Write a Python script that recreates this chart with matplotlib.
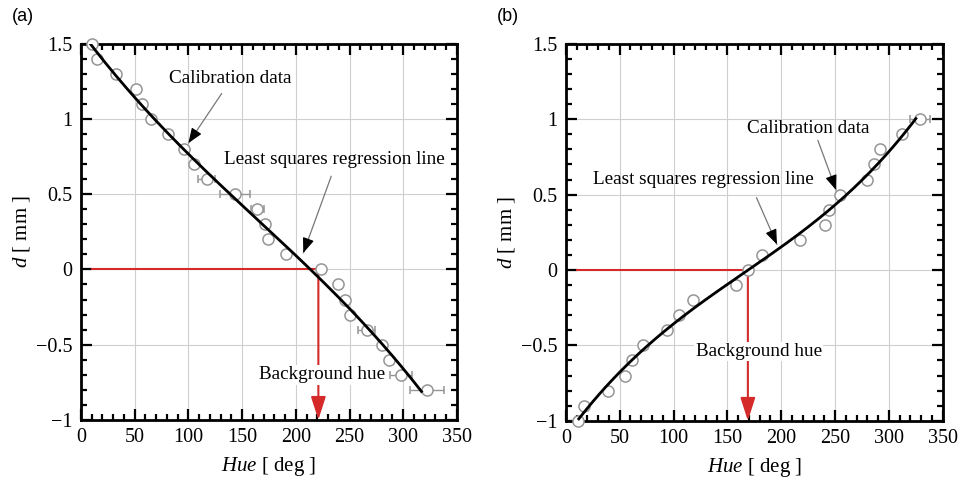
import numpy as np
import matplotlib
matplotlib.use('Agg')
import matplotlib.pyplot as plt
from matplotlib.ticker import MultipleLocator

plt.rcParams['font.family'] = ['Liberation Serif', 'DejaVu Serif']
plt.rcParams['mathtext.fontset'] = 'custom'
plt.rcParams['mathtext.it'] = 'Liberation Serif:italic'
plt.rcParams['mathtext.rm'] = 'Liberation Serif'

# (a) calibration data
hue_a = [10, 15, 33, 51, 57, 65, 81, 96, 105, 117, 143, 164, 171, 174, 191,
         223, 239, 246, 250, 266, 280, 287, 298, 322]
d_a = [1.5, 1.4, 1.3, 1.2, 1.1, 1.0, 0.9, 0.8, 0.7, 0.6, 0.5, 0.4, 0.3, 0.2, 0.1,
       0.0, -0.1, -0.2, -0.3, -0.4, -0.5, -0.6, -0.7, -0.8]
err_a = [0, 0, 0, 0, 0, 0, 0, 0, 0, 8, 14, 6, 0, 0, 0,
         0, 0, 0, 0, 8, 0, 0, 10, 16]
bg_hue_a = 221
fit_span_a = (6, 317)

# (b) calibration data
hue_b = [11, 17, 39, 55, 61, 72, 94, 105, 118, 158, 169, 182, 217, 241, 244,
         255, 280, 286, 292, 312, 329]
d_b = [-1.0, -0.9, -0.8, -0.7, -0.6, -0.5, -0.4, -0.3, -0.2, -0.1, 0.0, 0.1, 0.2,
       0.3, 0.4, 0.5, 0.6, 0.7, 0.8, 0.9, 1.0]
err_b = [0, 0, 0, 0, 0, 0, 0, 0, 0, 0, 0, 0, 0,
         0, 0, 0, 0, 0, 0, 0, 9]
bg_hue_b = 169
fit_span_b = (12, 325)

yticks = [-1, -0.5, 0, 0.5, 1, 1.5]
ytick_labels = ['\u22121', '\u22120.5', '0', '0.5', '1', '1.5']
xticks = [0, 50, 100, 150, 200, 250, 300, 350]

RED = '#d42a2a'

fig = plt.figure(figsize=(9.64, 4.82), dpi=100)
ax_a = fig.add_axes([0.084, 0.129, 0.390, 0.780])
ax_b = fig.add_axes([0.587, 0.127, 0.391, 0.782])


def draw_panel(ax, hue, d, err, bg_hue, span):
    ax.set_xlim(0, 350)
    ax.set_ylim(-1, 1.5)
    ax.set_xticks(xticks)
    ax.set_yticks(yticks)
    ax.set_yticklabels(ytick_labels)
    ax.xaxis.set_minor_locator(MultipleLocator(10))
    ax.yaxis.set_minor_locator(MultipleLocator(0.1))
    ax.tick_params(which='both', direction='in', top=True, right=True,
                   width=1.6, labelsize=14.5, colors='black')
    ax.tick_params(which='major', length=8, pad=6)
    ax.tick_params(which='minor', length=4)
    for s in ax.spines.values():
        s.set_linewidth(2)
    ax.grid(True, which='major', color='#cfcfcf', lw=0.8)
    ax.set_axisbelow(True)

    # background hue lines
    ax.plot([10, bg_hue], [0, 0], color=RED, lw=1.5, zorder=2)
    ax.annotate('', xy=(bg_hue, -1), xytext=(bg_hue, 0),
                arrowprops=dict(arrowstyle='-|>,head_length=1.4,head_width=0.45',
                                color=RED, lw=1.5, shrinkA=0, shrinkB=0), zorder=2)

    # data with error bars (markers may sit on the frame)
    h = np.array(hue, dtype=float)
    e = np.array(err, dtype=float)
    ax.errorbar(h, d, xerr=e, fmt='o', ms=8, mfc='white', mec='#959595',
                mew=1.1, ecolor='#959595', elinewidth=1, capsize=3, zorder=3,
                clip_on=False)

    # least squares regression line
    coef = np.polyfit(h, d, 3)
    xs = np.linspace(span[0], span[1], 200)
    ax.plot(xs, np.polyval(coef, xs), color='black', lw=2, zorder=4)

    ax.set_xlabel(r'$\mathit{Hue}$ [ deg ]', fontsize=15, labelpad=6)
    ax.set_ylabel(r'$\mathit{d}$ [ mm ]', fontsize=15, labelpad=3)


def pointer(ax, text, txy, start, tip):
    ax.text(txy[0], txy[1], text, fontsize=13.8, ha='center', va='center', zorder=6)
    ax.annotate('', xy=tip, xytext=start,
                arrowprops=dict(arrowstyle='-', color='#777777', lw=0.9,
                                shrinkA=0, shrinkB=0), zorder=5)
    dx = tip[0] - start[0]
    dy = tip[1] - start[1]
    ax.annotate('', xy=tip, xytext=(tip[0] - 0.15 * dx, tip[1] - 0.15 * dy),
                arrowprops=dict(arrowstyle='-|>,head_length=0.9,head_width=0.35',
                                color='black', lw=0.9, shrinkA=0, shrinkB=0), zorder=5)


draw_panel(ax_a, hue_a, d_a, err_a, bg_hue_a, fit_span_a)
pointer(ax_a, 'Calibration data', (139, 1.27), (131, 1.17), (100, 0.84))
pointer(ax_a, 'Least squares regression line', (236, 0.73), (233, 0.62), (207, 0.11))
ax_a.text(224, -0.7, 'Background hue', fontsize=13.8, ha='center', va='center',
          bbox=dict(facecolor='white', edgecolor='none', pad=1), zorder=6)

draw_panel(ax_b, hue_b, d_b, err_b, bg_hue_b, fit_span_b)
pointer(ax_b, 'Calibration data', (225, 0.94), (234, 0.86), (251, 0.53))
pointer(ax_b, 'Least squares regression line', (128, 0.6), (177, 0.48), (196, 0.17))
ax_b.text(179, -0.54, 'Background hue', fontsize=13.8, ha='center', va='center',
          bbox=dict(facecolor='white', edgecolor='none', pad=1), zorder=6)

fig.text(0.012, 0.965, '(a)', fontsize=13, family='Liberation Sans', va='center')
fig.text(0.515, 0.965, '(b)', fontsize=13, family='Liberation Sans', va='center')

fig.savefig('out.png', dpi=100)
